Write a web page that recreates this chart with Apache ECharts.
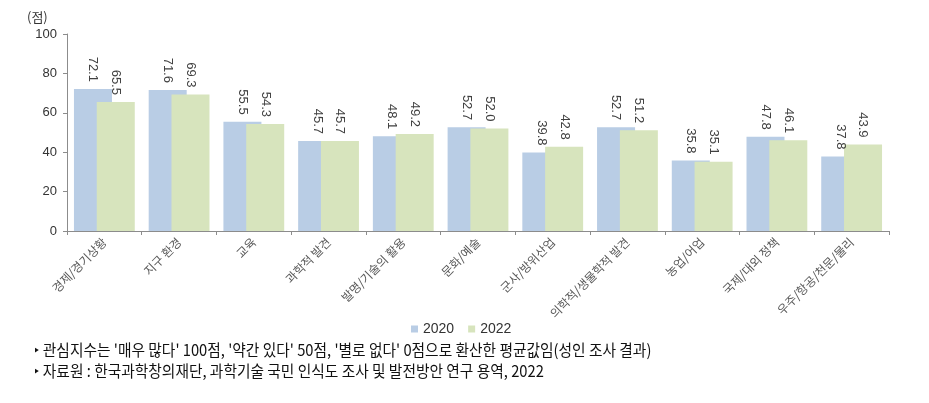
<!DOCTYPE html>
<html>
<head>
<meta charset="utf-8">
<script src="https://cdn.jsdelivr.net/npm/echarts@6/dist/echarts.min.js"></script>
<style>
html,body{margin:0;padding:0;background:#fff;}
#chart{width:929px;height:403px;}
</style>
</head>
<body>
<div id="chart"></div>
<script>
const categories = ['경제/경기상황','지구 환경','교육','과학적 발견','발명/기술의 활용','문화/예술','군사/방위산업','의학적/생물학적 발견','농업/어업','국제/대외 정책','우주/항공/천문/물리'];
const series2020 = [72.1, 71.6, 55.5, 45.7, 48.1, 52.7, 39.8, 52.7, 35.8, 47.8, 37.8];
const series2022 = [65.5, 69.3, 54.3, 45.7, 49.2, 52.0, 42.8, 51.2, 35.1, 46.1, 43.9];
const seriesNames = ['2020', '2022'];
const yTicks = [0, 20, 40, 60, 80, 100];
const unitLabel = '(점)';
const footnotes = [
  '‣ 관심지수는 \'매우 많다\' 100점, \'약간 있다\' 50점, \'별로 없다\' 0점으로 환산한 평균값임(성인 조사 결과)',
  '‣ 자료원 : 한국과학창의재단, 과학기술 국민 인식도 조사 및 발전방안 연구 용역, 2022'
];

const chart = echarts.init(document.getElementById('chart'), null, {renderer: 'canvas'});
const kfont = '"Noto Sans CJK KR", sans-serif';
const nfont = '"Liberation Sans", Arial, sans-serif';

function barLabel() {
  return {
    show: true,
    position: 'top',
    distance: 7,
    rotate: -90,
    align: 'right',
    verticalAlign: 'middle',
    fontSize: 13,
    fontFamily: nfont,
    color: '#404040',
    formatter: p => p.value.toFixed(1)
  };
}

chart.setOption({
  animation: false,
  grid: {left: 67, right: 40, top: 34, bottom: 172},
  legend: {
    data: seriesNames,
    left: 406,
    top: 317,
    icon: 'rect',
    itemWidth: 7,
    itemHeight: 7,
    itemGap: 14,
    textStyle: {fontSize: 14, color: '#333', fontFamily: nfont}
  },
  xAxis: {
    type: 'category',
    data: categories,
    axisLine: {lineStyle: {color: '#8c8c8c', width: 1}},
    axisTick: {show: true, length: 4, alignWithLabel: false, lineStyle: {color: '#8c8c8c'}},
    axisLabel: {rotate: 45, interval: 0, margin: 9, fontSize: 12, color: '#595959', fontFamily: kfont}
  },
  yAxis: {
    type: 'value',
    min: yTicks[0],
    max: yTicks[yTicks.length - 1],
    interval: 20,
    axisLine: {show: true, lineStyle: {color: '#8c8c8c', width: 1}},
    axisTick: {show: true, length: 4, lineStyle: {color: '#8c8c8c'}},
    splitLine: {show: false},
    axisLabel: {fontSize: 13, color: '#333', fontFamily: nfont, margin: 10}
  },
  graphic: [
    {type: 'text', left: 27, top: 11, style: {text: unitLabel, fontSize: 13, fill: '#333', fontFamily: kfont}},
    {type: 'text', x: 34, y: 350, scaleX: 0.92, style: {text: footnotes[0], fontSize: 16, fill: '#111', fontFamily: kfont, verticalAlign: 'middle'}},
    {type: 'text', x: 34, y: 371, scaleX: 0.92, style: {text: footnotes[1], fontSize: 16, fill: '#111', fontFamily: kfont, verticalAlign: 'middle'}}
  ],
  series: [
    {name: seriesNames[0], type: 'bar', data: series2020, barWidth: 38, barGap: '-40%',
     itemStyle: {color: '#B9CDE5'}, label: barLabel()},
    {name: seriesNames[1], type: 'bar', data: series2022, barWidth: 38,
     itemStyle: {color: '#D7E4BD'}, label: barLabel()}
  ]
});
</script>
</body>
</html>
